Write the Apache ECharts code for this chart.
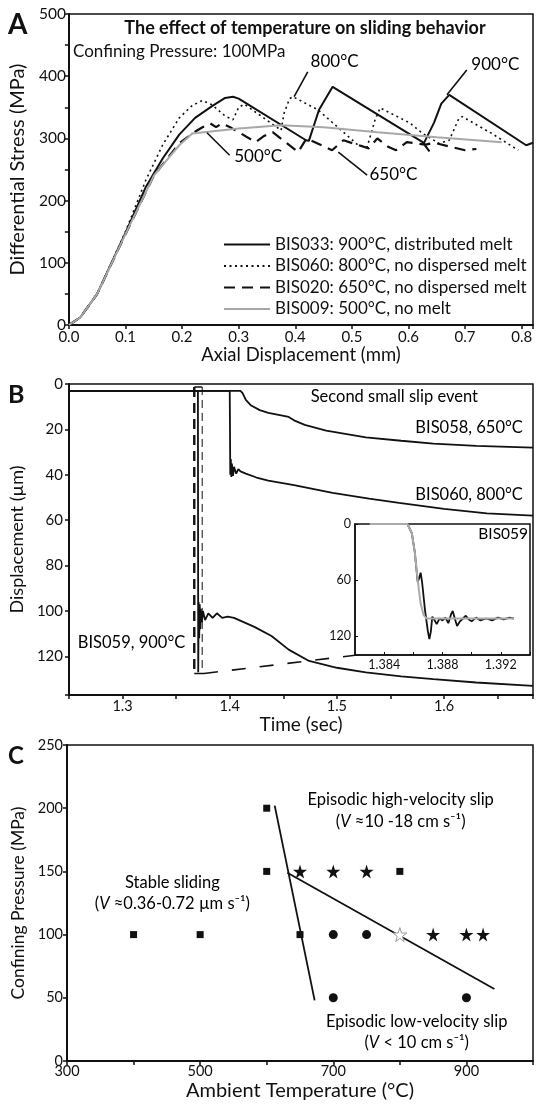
<!DOCTYPE html>
<html>
<head>
<meta charset="utf-8">
<script src="https://cdn.jsdelivr.net/npm/echarts@6/dist/echarts.min.js"></script>
<style>
html, body { margin: 0; padding: 0; background: #fff; }
#chart { width: 536px; height: 1104px; }
</style>
</head>
<body>
<div id="chart"></div>
<script>
// ---- panel A : differential stress (MPa) vs axial displacement (mm)
const bis033 = [[0,0],[0.02,12],[0.05,50],[0.1,148],[0.136,222],[0.166,268],[0.195,306],[0.223,333],[0.253,352],[0.276,365],[0.29,367],[0.3,364],[0.419,297],[0.424,296],[0.442,346],[0.466,383],[0.625,294],[0.637,279],[0.627,292],[0.645,325],[0.658,356],[0.672,370],[0.808,289],[0.82,293]];
const bis060 = [[0,0],[0.02,12],[0.05,50],[0.1,150],[0.136,233],[0.166,290],[0.195,333],[0.218,353],[0.236,361],[0.253,354],[0.276,336],[0.29,330],[0.3,350],[0.31,355],[0.375,313],[0.38,340],[0.39,364],[0.396,367],[0.44,346],[0.485,310],[0.51,290],[0.527,286],[0.541,330],[0.55,349],[0.602,325],[0.625,308],[0.654,292],[0.672,297],[0.689,332],[0.695,335],[0.747,308],[0.794,281]];
const bis020 = [[0,0],[0.02,12],[0.05,50],[0.1,146],[0.15,240],[0.195,292],[0.218,308],[0.236,318],[0.25,324],[0.26,318],[0.27,324],[0.285,318],[0.33,294],[0.345,304],[0.36,310],[0.405,278],[0.42,300],[0.465,281],[0.485,297],[0.53,284],[0.545,300],[0.565,286],[0.578,281],[0.597,294],[0.63,290],[0.645,293],[0.7,281],[0.72,283]];
const bis009 = [[0,0],[0.02,12],[0.05,50],[0.1,146],[0.15,240],[0.195,289],[0.218,308],[0.3,316],[0.375,321],[0.45,318],[0.545,310],[0.65,302],[0.765,294]];
const namesA = ['BIS033: 900°C, distributed melt', 'BIS060: 800°C, no dispersed melt', 'BIS020: 650°C, no dispersed melt', 'BIS009: 500°C, no melt'];

// ---- panel B : displacement (µm) vs time (sec)
const bis058 = [[1.25,3],[1.41,3],[1.412,4],[1.415,7],[1.42,9.5],[1.428,11.5],[1.436,12.7],[1.448,13.8],[1.455,14.5],[1.46,16],[1.47,18],[1.49,20.5],[1.527,23.5],[1.56,25],[1.59,26.3],[1.63,27.3],[1.683,28]];
const bis060b = [[1.25,3],[1.4,3],[1.4005,40],[1.401,33],[1.4015,41],[1.402,35],[1.403,40.5],[1.404,36.5],[1.406,39.5],[1.408,37.5],[1.41,38.5],[1.415,39.5],[1.425,41.2],[1.436,42.6],[1.46,44.5],[1.496,48],[1.53,50.5],[1.558,52.4],[1.6,55],[1.64,57],[1.683,58]];
const bis059 = [[1.25,3],[1.3703,3],[1.3706,127],[1.371,96],[1.3715,112],[1.372,97],[1.3725,108],[1.373,99],[1.374,105],[1.375,100],[1.377,104],[1.38,101],[1.384,103],[1.388,101],[1.393,103],[1.398,102.5],[1.404,103],[1.423,107],[1.439,111],[1.455,117],[1.474,122],[1.5,125],[1.527,127],[1.56,128.8],[1.59,130],[1.63,131.5],[1.683,133]];
// inset: BIS059 slip event
const insetBlack = [[1.383,0],[1.3856,0],[1.3859,10],[1.3861,30],[1.3863,62],[1.3864,58],[1.3865,52],[1.3866,62],[1.3868,92],[1.387,115],[1.3871,123],[1.3872,115],[1.3873,99],[1.3875,104],[1.3876,107],[1.3878,101],[1.388,103],[1.3882,100],[1.3884,106],[1.3886,96],[1.3887,93],[1.3889,104],[1.389,109],[1.3892,104],[1.3894,101],[1.3896,98],[1.3898,102],[1.39,104],[1.3903,100],[1.3906,103],[1.391,101],[1.3914,103],[1.3918,100],[1.3922,102],[1.3926,100],[1.3929,101]];
const insetGray = [[1.383,0],[1.3856,0],[1.3859,10],[1.3861,30],[1.3863,60],[1.3865,85],[1.3867,97],[1.3869,101],[1.388,101],[1.39,101],[1.3929,101]];

// ---- panel C : confining pressure (MPa) vs ambient temperature (°C)
const stableSq = [[400,100],[500,100],[600,200],[600,150],[650,100],[800,150]];
const lowVelDots = [[700,100],[750,100],[700,50],[900,50]];
const highVelStars = [[650,150],[700,150],[750,150],[850,100],[900,100],[925,100]];
const openStar = [[800,100]];
const boundary1 = [[612,202],[672,48]];
const boundary2 = [[631,149],[942,57]];

// annotations (data coordinates)
const annoA = [
  { text: '500°C', at: [0.293, 270], align: 'left' },
  { text: '650°C', at: [0.532, 241], align: 'left' },
  { text: '800°C', at: [0.428, 423], align: 'left' },
  { text: '900°C', at: [0.712, 418], align: 'left' }
];
const leadersA = [[[0.244,309],[0.284,273]], [[0.476,278],[0.527,241]], [[0.398,367],[0.422,407]], [[0.668,370],[0.703,410]]];
const annoB = [
  { text: 'Second small slip event', at: [1.476, 5.7], align: 'left' },
  { text: 'BIS058, 650°C', at: [1.674, 19.4], align: 'right' },
  { text: 'BIS060, 800°C', at: [1.674, 49], align: 'right' },
  { text: 'BIS059, 900°C', at: [1.359, 114], align: 'right' }
];
const annoInset = [{ text: 'BIS059', at: [1.3939, 11], align: 'right' }];
const annoC = [
  { text: 'Episodic high-velocity slip', at: [802, 206], align: 'center' },
  { text: '({i|V} ≈10 -18 cm s⁻¹)', at: [802, 189], align: 'center' },
  { text: 'Stable sliding', at: [459, 141], align: 'center' },
  { text: '({i|V} ≈0.36-0.72 µm s⁻¹)', at: [459, 124], align: 'center' },
  { text: 'Episodic low-velocity slip', at: [826, 31], align: 'center' },
  { text: '({i|V} < 10 cm s⁻¹)', at: [826, 14], align: 'center' }
];

const FONT = 'Lato, "DejaVu Sans", sans-serif';
const INK = '#111';
const STAR = 'path://M50,0 L61,35 L98,35 L68,57 L79,91 L50,70 L21,91 L32,57 L2,35 L39,35 Z';

function near(v, step) {
  const q = v / step;
  return Math.abs(q - Math.round(q)) < 1e-6;
}

function axis(grid, o) {
  return Object.assign({
    type: 'value',
    gridIndex: grid,
    nameLocation: 'middle',
    nameTextStyle: { fontSize: 19, color: INK, fontFamily: FONT },
    axisLine: { show: true, onZero: false, lineStyle: { color: INK, width: 2 } },
    axisTick: { show: true, length: 4, lineStyle: { color: INK, width: 1.5 } },
    axisLabel: { color: INK, fontSize: 15, fontFamily: FONT, margin: 4 },
    splitLine: { show: false }
  }, o);
}

function textSeries(grid, items, size) {
  return {
    type: 'scatter', xAxisIndex: grid, yAxisIndex: grid, symbolSize: 1, silent: true, z: 6,
    itemStyle: { color: 'rgba(0,0,0,0)', opacity: 1 },
    data: items.map(t => ({ value: t.at, name: t.text, label: { align: t.align } })),
    label: {
      show: true, position: [0, 0], verticalAlign: 'middle', opacity: 1,
      formatter: p => p.name, color: '#000', fontSize: size, fontFamily: FONT,
      rich: { i: { fontStyle: 'italic', fontSize: size, fontFamily: FONT, color: '#000' } }
    }
  };
}

function seg(grid, pts, style) {
  return { type: 'line', xAxisIndex: grid, yAxisIndex: grid, data: pts, symbol: 'none', silent: true, z: 4, lineStyle: style };
}

function curve(grid, name, pts, style) {
  return { type: 'line', name: name, xAxisIndex: grid, yAxisIndex: grid, data: pts, symbol: 'none', silent: true, z: 3,
    itemStyle: { color: style.color }, lineStyle: style };
}

function dots(name, pts, symbol, size, style) {
  return { type: 'scatter', name: name, xAxisIndex: 3, yAxisIndex: 3, data: pts, symbol: symbol, symbolSize: size,
    silent: true, z: 5, itemStyle: Object.assign({ color: INK, opacity: 1 }, style) };
}

const series = [
  curve(0, namesA[0], bis033, { color: INK, width: 2 }),
  curve(0, namesA[1], bis060, { color: INK, width: 1.6, type: [2, 3.5] }),
  curve(0, namesA[2], bis020, { color: INK, width: 2.2, type: [11, 7] }),
  curve(0, namesA[3], bis009, { color: '#a8a8a8', width: 2 }),
  textSeries(0, annoA, 17),

  curve(1, 'BIS058', bis058, { color: INK, width: 1.8 }),
  curve(1, 'BIS060b', bis060b, { color: INK, width: 1.8 }),
  curve(1, 'BIS059', bis059, { color: INK, width: 1.8 }),
  // zoom box round the BIS059 slip and its pointer to the inset
  seg(1, [[1.3669,1.3],[1.3669,127.5]], { color: INK, width: 2.4, type: [10, 6] }),
  seg(1, [[1.3743,1.3],[1.3743,127.5]], { color: INK, width: 1, type: [8, 5] }),
  seg(1, [[1.3669,1.3],[1.3743,1.3]], { color: INK, width: 1.5 }),
  seg(1, [[1.3669,127.5],[1.376,127.5]], { color: INK, width: 1.5 }),
  seg(1, [[1.376,127.5],[1.517,119.5]], { color: INK, width: 1.6, type: [14, 14] }),
  textSeries(1, annoB, 16.5),

  curve(2, 'insetBlack', insetBlack, { color: INK, width: 1.8 }),
  curve(2, 'insetGray', insetGray, { color: '#aaaaaa', width: 2 }),
  textSeries(2, annoInset, 15.5),

  dots('stable', stableSq, 'rect', 7),
  dots('low', lowVelDots, 'circle', 9),
  dots('high', highVelStars, STAR, 14),
  dots('open', openStar, STAR, 14, { color: '#fff', borderColor: '#999', borderWidth: 1 }),
  seg(3, boundary1, { color: INK, width: 1.8 }),
  seg(3, boundary2, { color: INK, width: 1.8 }),
  textSeries(3, annoC, 16.5)
];

const chart = echarts.init(document.getElementById('chart'), null, { renderer: 'canvas' });

const option = {
  animation: false,
  backgroundColor: '#fff',
  textStyle: { fontFamily: FONT },
  grid: [
    { left: 65, top: 14, width: 470, height: 311, show: true, borderColor: INK, borderWidth: 1.5 },
    { left: 67, top: 384, width: 466, height: 311, show: true, borderColor: INK, borderWidth: 1.5 },
    { left: 355, top: 524, width: 175, height: 131, show: true, borderColor: INK, borderWidth: 1.5, backgroundColor: '#fff' },
    { left: 67, top: 745, width: 467, height: 316, show: true, borderColor: INK, borderWidth: 1.5 }
  ],
  xAxis: [
    axis(0, { min: 0, max: 0.82, interval: 0.1, name: 'Axial Displacement (mm)', nameGap: 17,
      nameTextStyle: { fontSize: 18.5, color: INK, fontFamily: FONT },
      axisLabel: { color: INK, fontSize: 15, fontFamily: FONT, margin: 5,
        formatter: v => near(v, 0.1) ? v.toFixed(1) : '' } }),
    axis(1, { min: 1.25, max: 1.683, interval: 0.05, name: 'Time (sec)', nameGap: 18,
      axisLabel: { color: INK, fontSize: 14.5, fontFamily: FONT, margin: 4,
        formatter: v => near(v, 0.1) ? v.toFixed(1) : '' } }),
    axis(2, { min: 1.382, max: 1.394, interval: 0.002,
      axisLine: { show: true, onZero: false, lineStyle: { color: INK, width: 1.5 } },
      axisTick: { show: true, inside: true, length: 3, lineStyle: { color: INK, width: 1 } },
      axisLabel: { color: INK, fontSize: 12.5, fontFamily: FONT, margin: 3,
        formatter: v => Math.round(v * 1000) % 4 === 0 ? v.toFixed(3) : '' } }),
    axis(3, { min: 300, max: 1000, interval: 100, name: 'Ambient Temperature (°C)', nameGap: 20,
      nameTextStyle: { fontSize: 20, color: INK, fontFamily: FONT },
      axisLabel: { color: INK, fontSize: 14.5, fontFamily: FONT, margin: 3,
        formatter: v => (v - 300) % 200 === 0 && v < 1000 ? String(v) : '' } })
  ],
  yAxis: [
    axis(0, { min: 0, max: 500, interval: 50, name: 'Differential Stress (MPa)', nameGap: 36,
      nameTextStyle: { fontSize: 20, color: INK, fontFamily: FONT },
      axisLabel: { color: INK, fontSize: 15.5, fontFamily: FONT, margin: 3,
        formatter: v => v % 100 === 0 ? String(v) : '' } }),
    axis(1, { min: 0, max: 137, interval: 20, inverse: true, name: 'Displacement (µm)', nameGap: 38,
      nameTextStyle: { fontSize: 18, color: INK, fontFamily: FONT },
      axisLabel: { color: INK, fontSize: 15, fontFamily: FONT, margin: 6,
        formatter: v => v % 20 === 0 ? String(v) : '' } }),
    axis(2, { min: 0, max: 140, interval: 60, inverse: true,
      axisLine: { show: true, onZero: false, lineStyle: { color: INK, width: 1.5 } },
      axisTick: { show: true, inside: true, length: 3, lineStyle: { color: INK, width: 1 } },
      axisLabel: { color: INK, fontSize: 12.5, fontFamily: FONT, margin: 4,
        formatter: v => v % 60 === 0 ? String(v) : '' } }),
    axis(3, { min: 0, max: 250, interval: 50, name: 'Confining Pressure (MPa)', nameGap: 38,
      nameTextStyle: { fontSize: 17.5, color: INK, fontFamily: FONT },
      axisLabel: { color: INK, fontSize: 14.5, fontFamily: FONT, margin: 4 } })
  ],
  legend: {
    data: namesA,
    orient: 'vertical',
    left: 218,
    top: 231,
    itemWidth: 46,
    itemHeight: 14,
    itemGap: 4.5,
    selectedMode: false,
    itemStyle: { opacity: 0, borderWidth: 0 },
    textStyle: { fontSize: 17, color: INK, fontFamily: FONT }
  },
  graphic: [
    { type: 'text', x: 8, y: 25, style: { text: 'A', font: 'bold 28px Lato', fill: INK, textVerticalAlign: 'middle' } },
    { type: 'text', x: 8, y: 395, style: { text: 'B', font: 'bold 25px Lato', fill: INK, textVerticalAlign: 'middle' } },
    { type: 'text', x: 8, y: 756, style: { text: 'C', font: 'bold 24px Lato', fill: INK, textVerticalAlign: 'middle' } },
    { type: 'text', x: 305, y: 28, style: { text: 'The effect of temperature on sliding behavior', font: 'bold 18px Lato', fill: INK, textAlign: 'center', textVerticalAlign: 'middle' } },
    { type: 'text', x: 73, y: 52, style: { text: 'Confining Pressure: 100MPa', font: '17px Lato', fill: INK, textVerticalAlign: 'middle' } }
  ],
  series: series.concat(leadersA.map(l => seg(0, l, { color: INK, width: 1.6 })))
};

chart.setOption(option);
</script>
</body>
</html>
